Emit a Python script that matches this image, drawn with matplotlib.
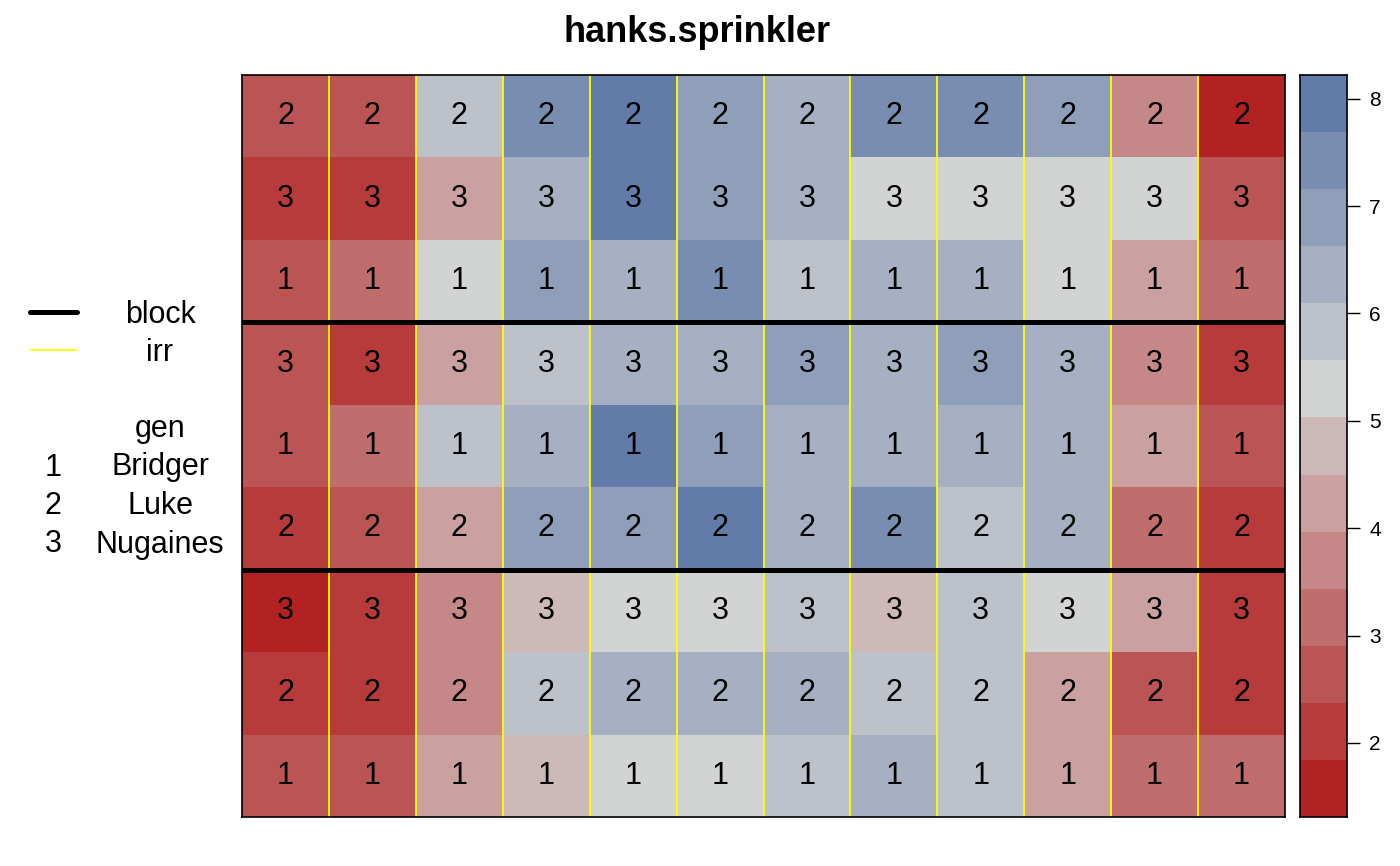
import numpy as np
import matplotlib
matplotlib.use("Agg")
import matplotlib.pyplot as plt
from matplotlib.colors import LinearSegmentedColormap, ListedColormap, BoundaryNorm

plt.rcParams['font.family'] = ['Liberation Sans', 'DejaVu Sans']

# yield by field row (top row first), 12 subplots each
yld = [
    [2.60, 2.70, 5.80, 7.40, 7.95, 6.90, 6.35, 7.35, 7.45, 6.85, 3.70, 1.55],
    [2.10, 2.20, 4.20, 6.40, 8.22, 6.95, 6.30, 5.30, 5.25, 5.35, 5.20, 2.65],
    [2.55, 3.15, 5.30, 6.90, 6.40, 7.50, 5.85, 6.35, 6.30, 5.30, 4.25, 3.20],
    [2.65, 2.05, 4.15, 5.75, 6.30, 6.45, 6.85, 6.40, 6.95, 6.35, 3.75, 2.15],
    [2.60, 3.10, 5.85, 6.35, 8.05, 6.90, 6.30, 6.40, 6.35, 6.30, 4.20, 2.70],
    [2.15, 2.55, 4.30, 6.85, 6.95, 7.90, 6.40, 7.40, 5.80, 6.35, 3.25, 2.05],
    [1.31, 2.20, 3.70, 4.75, 5.30, 5.25, 5.85, 4.80, 5.80, 5.30, 4.25, 2.10],
    [2.15, 2.05, 3.80, 5.75, 6.35, 6.40, 6.30, 5.85, 5.80, 4.20, 2.60, 2.15],
    [2.60, 2.65, 4.25, 4.70, 5.30, 5.35, 5.80, 6.30, 5.85, 4.25, 3.15, 3.20],
]
gen_by_row = [2, 3, 1, 3, 1, 2, 3, 2, 1]
gen_codes = [1, 2, 3]
gen_names = ["Bridger", "Luke", "Nugaines"]
block_breaks = [3, 6]
irr_breaks = [1, 2, 3, 4, 5, 6, 7, 8, 9, 10, 11]
cbar_ticks = [2, 3, 4, 5, 6, 7, 8]

z = np.array(yld)
nrow, ncol = z.shape

# desplot RedGrayBlue ramp; 15 steps, data uses 13 of them
ramp = LinearSegmentedColormap.from_list("rgb", ["firebrick", "lightgray", "#375997"])
nlev = 13
cols = [ramp(i / 14) for i in range(nlev)]
cmap = ListedColormap(cols)
bounds = np.linspace(z.min(), z.max(), nlev + 1)
norm = BoundaryNorm(bounds, nlev)

W, H = 1400, 866
fig = plt.figure(figsize=(14, 8.66), dpi=100)

ax = fig.add_axes([242 / W, 1 - 817 / H, 1043 / W, 742 / H])
ax.pcolormesh(np.arange(ncol + 1), np.arange(nrow + 1), z, cmap=cmap, norm=norm)
ax.set_xlim(0, ncol)
ax.set_ylim(nrow, 0)
for i in range(nrow):
    for j in range(ncol):
        ax.text(j + 0.5, i + 0.5, str(gen_by_row[i]), ha='center', va='center', fontsize=22)
for x in irr_breaks:
    ax.axvline(x, color='yellow', lw=1.3)
for y in block_breaks:
    ax.axhline(y, color='black', lw=3.6)
ax.set_xticks([])
ax.set_yticks([])
for s in ax.spines.values():
    s.set_linewidth(1.2)

# colorbar drawn by hand so tick sizes stick
cax = fig.add_axes([1300 / W, 1 - 817 / H, 47 / W, 742 / H])
cax.pcolormesh([0, 1], bounds, np.array(bounds[:-1] + np.diff(bounds) / 2)[:, None],
               cmap=cmap, norm=norm)
cax.set_xlim(0, 1)
cax.set_ylim(bounds[0], bounds[-1])
cax.set_xticks([])
cax.yaxis.tick_right()
cax.set_yticks(cbar_ticks)
cax.set_yticklabels([str(t) for t in cbar_ticks])
cax.tick_params(axis='y', labelsize=15, length=9, width=1, pad=7,
                left=False, right=True)
for s in cax.spines.values():
    s.set_linewidth(1.2)

fig.text(0.498, 1 - 42 / H, "hanks.sprinkler", ha='center', va='baseline',
         fontsize=26, fontweight='bold')

# key on the left, in pixel units
lax = fig.add_axes([0, 0, 242 / W, 1])
lax.set_xlim(0, 242)
lax.set_ylim(H, 0)
lax.axis('off')
lax.plot([30, 77], [312, 312], color='black', lw=3.6, solid_capstyle='round')
lax.plot([31, 77], [350, 350], color='yellow', lw=1.3)
lax.text(160, 323, "block", ha='center', va='baseline', fontsize=22)
lax.text(160, 361, "irr", ha='center', va='baseline', fontsize=22)
lax.text(160, 437, "gen", ha='center', va='baseline', fontsize=22)
for k, (c, nm) in enumerate(zip(gen_codes, gen_names)):
    yb = 475.5 + k * 38.5
    lax.text(53, yb, str(c), ha='center', va='baseline', fontsize=22)
    lax.text(160, yb, nm, ha='center', va='baseline', fontsize=22)

fig.savefig("out.png", dpi=100)
